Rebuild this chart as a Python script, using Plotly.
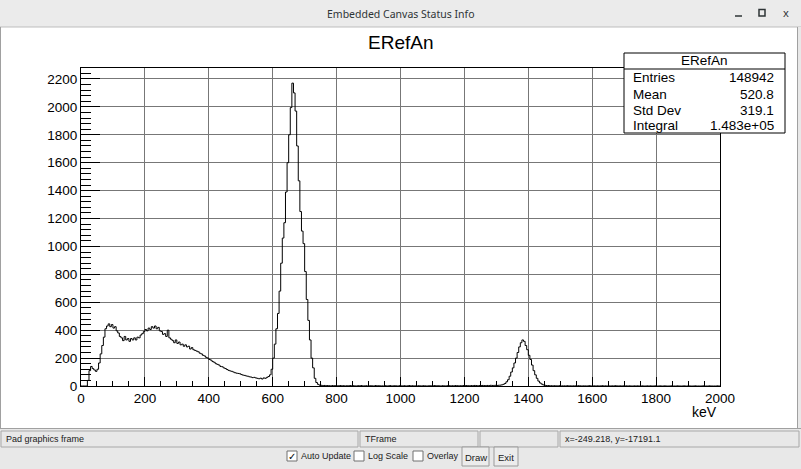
import plotly.graph_objects as go

# ---------------- data ----------------
BIN_W = 5  # keV per bin
# counts per 5 keV bin, 0 .. 595 keV
counts_low = [
    0, 0, 0, 0, 40, 110, 140, 125, 115, 105,
    120, 165, 230, 290, 350, 410, 430, 445, 425, 440,
    415, 425, 395, 380, 355, 345, 325, 355, 330, 340,
    320, 340, 330, 345, 330, 350, 345, 365, 375, 390,
    405, 395, 415, 405, 425, 415, 430, 410, 420, 395,
    390, 370, 375, 355, 400, 345, 335, 325, 310, 330,
    305, 315, 295, 300, 285, 295, 280, 285, 265, 275,
    260, 255, 250, 245, 235, 230, 220, 215, 205, 200,
    190, 185, 175, 170, 160, 155, 150, 140, 138, 130,
    125, 118, 112, 108, 105, 100, 95, 92, 90, 88,
    82, 78, 76, 72, 70, 66, 64, 60, 62, 58,
    55, 52, 56, 50, 58, 55, 62, 68, 80, 120,
]
# 600 .. 745 keV (photo peak)
counts_peak = [
    200, 300, 410, 520, 680, 880, 1060, 1170, 1390, 1600,
    1800, 1995, 2170, 2100, 1970, 1720, 1470, 1250, 1110, 1020,
    820, 620, 470, 330, 200, 130, 55, 25, 12, 6,
]
# 750 .. 1305 keV
counts_mid = [
    5, 3, 4, 2, 3, 2, 1, 3, 2, 2,
    1, 2, 3, 1, 2, 0, 2, 1, 3, 1,
    2, 1, 0, 2, 1, 3, 1, 1, 2, 0,
    1, 2, 1, 0, 3, 1, 2, 1, 1, 0,
    2, 1, 1, 3, 0, 1, 2, 1, 0, 2,
    1, 1, 2, 0, 1, 3, 1, 2, 1, 1,
    0, 2, 1, 1, 2, 1, 0, 1, 2, 1,
    1, 3, 1, 2, 1, 0, 2, 1, 1, 2,
    2, 1, 2, 1, 3, 2, 1, 2, 2, 3,
    2, 3, 2, 2, 3, 2, 4, 3, 2, 3,
    3, 4, 3, 3, 4, 3, 5, 4, 4, 5,
    4, 5,
]
# 1310 .. 1455 keV (second peak)
counts_hpeak = [
    6, 8, 12, 18, 30, 45, 70, 100, 130, 165,
    200, 240, 280, 310, 330, 320, 290, 260, 220, 190,
    150, 110, 80, 55, 35, 22, 14, 8, 5, 3,
]
# 1460 .. 1995 keV
counts_tail = [
    3, 2, 2, 1, 2, 1, 1, 2, 0, 1,
    1, 0, 2, 1, 1, 0, 1, 1, 0, 2,
    1, 0, 1, 1, 0, 1, 2, 0, 1, 1,
    0, 1, 0, 1, 2, 0, 1, 0, 1, 0,
    1, 0, 2, 1, 0, 1, 0, 1, 0, 1,
    0, 1, 0, 0, 1, 0, 1, 0, 0, 1,
    0, 0, 1, 0, 1, 0, 0, 1, 0, 0,
    1, 0, 0, 1, 0, 0, 0, 1, 0, 0,
    0, 1, 0, 0, 0, 1, 0, 0, 1, 0,
    0, 0, 1, 0, 0, 0, 0, 1, 0, 0,
    0, 1, 0, 0, 0, 0, 1, 0,
]
counts = counts_low + counts_peak + counts_mid + counts_hpeak + counts_tail
edges = [i * BIN_W for i in range(len(counts) + 1)]

x_ticks = list(range(0, 2001, 200))
y_ticks = list(range(0, 2201, 200))
Y_MAX = 2278.5

hist_title = "ERefAn"
x_title = "keV"
stats_labels = ["Entries", "Mean", "Std Dev", "Integral"]
stats_values = ["148942", "520.8", "319.1", "1.483e+05"]

window_title = "Embedded Canvas Status Info"
status_texts = ["Pad graphics frame", "TFrame", "", "x=-249.218, y=-17191.1"]
checkbox_labels = ["Auto Update", "Log Scale", "Overlay"]
checkbox_states = [True, False, False]
button_labels = ["Draw", "Exit"]

# ---------------- geometry helpers (pixels -> paper) ----------------
W, H = 801, 469
L, R, T, B = 81, 720, 68, 386


def px(x):
    return (x - L) / (R - L)


def py(y):
    return (B - y) / (B - T)


FONT = "Liberation Sans, Arial, Helvetica, sans-serif"
shapes = []
annos = []


def rect(x0, y0, x1, y1, fill=None, line=None, lw=1):
    shapes.append(dict(type="rect", xref="paper", yref="paper",
                       x0=px(x0), x1=px(x1), y0=py(y0), y1=py(y1),
                       fillcolor=fill if fill else "rgba(0,0,0,0)",
                       line=dict(color=line if line else "rgba(0,0,0,0)", width=lw if line else 0),
                       layer="above"))


def hline(x0, x1, y, color, lw=1):
    shapes.append(dict(type="line", xref="paper", yref="paper",
                       x0=px(x0), x1=px(x1), y0=py(y), y1=py(y),
                       line=dict(color=color, width=lw), layer="above"))


def vline(x, y0, y1, color, lw=1):
    shapes.append(dict(type="line", xref="paper", yref="paper",
                       x0=px(x), x1=px(x), y0=py(y0), y1=py(y1),
                       line=dict(color=color, width=lw), layer="above"))


def text(x, y, s, size, xanchor="left", color="black", family=FONT):
    annos.append(dict(xref="paper", yref="paper", x=px(x), y=py(y), text=s,
                      showarrow=False, xanchor=xanchor, yanchor="middle",
                      font=dict(size=size, color=color, family=family)))


# ---------------- window chrome ----------------
GUI = "#e8e8e8"
rect(0, 0, 801, 27, fill="#ebebeb")
hline(0, 801, 27, "#bdbdbd")
text(400.5, 13.5, window_title, 10.5, "center", "#2e3436", "Noto Sans, DejaVu Sans, sans-serif")
hline(735, 742, 16, "#2e3436", 1.5)
rect(759, 9.5, 765, 16, line="#2e3436", lw=1.5)
text(786, 13, "x", 11, "center", "#2e3436", "Noto Sans, DejaVu Sans, sans-serif")
# canvas border
vline(0.5, 27, 428, "#a0a0a0")
vline(797.5, 27, 428, "#a0a0a0")
rect(798, 27, 801, 428, fill=GUI)
# bottom panel
rect(0, 428, 801, 469, fill=GUI)
hline(0, 801, 428.5, "#a0a0a0")
segs = [(1, 358), (360, 478), (480, 558), (560, 799)]
for (a, b), s in zip(segs, status_texts):
    rect(a, 431, b, 447, line="#a8a8a8")
    if s:
        text(a + 3, 439, s, 9, "left", "#202020")
cb_x = [287, 354, 413]
for cx, lab, st in zip(cb_x, checkbox_labels, checkbox_states):
    rect(cx, 451, cx + 10, 461, fill="white", line="#707070")
    if st:
        text(cx + 5, 456, "✓", 10, "center", "black", "DejaVu Sans, sans-serif")
    text(cx + 12, 456, lab, 9, "left", "#202020")
btn_x = [(462, 489), (494, 518)]
for (a, b), lab in zip(btn_x, button_labels):
    rect(a, 447, b, 466, fill="#ececec", line="#9a9a9a")
    text((a + b) / 2, 457, lab, 9.5, "center", "#202020")

# ---------------- histogram decorations ----------------
text(400, 43, hist_title, 19, "center")
annos.append(dict(xref="paper", yref="paper", x=px(719), y=py(412), text=x_title,
                  showarrow=False, xanchor="right", yanchor="middle",
                  font=dict(size=14, color="black", family=FONT)))
# stats box
rect(624, 53, 785, 133, fill="white", line="black")
hline(624, 785, 69, "black")
text(704.5, 61, hist_title, 13.5, "center")
row_y = [77.5, 94, 110, 125.5]
for yy, lab, val in zip(row_y, stats_labels, stats_values):
    text(631, yy, lab, 13.5, "left")
    text(776, yy, val, 13.5, "right")

# ---------------- figure ----------------
fig = go.Figure()
fig.add_trace(go.Scatter(
    x=edges, y=counts + [counts[-1]], mode="lines",
    line=dict(color="black", width=1, shape="hv"),
    hoverinfo="skip", showlegend=False))

axis_common = dict(
    showline=True, linecolor="black", linewidth=1, mirror=True,
    showgrid=True, gridcolor="#777777", gridwidth=1, zeroline=False,
    ticks="inside", tickcolor="black", tickwidth=1,
    tickfont=dict(size=13.5, color="black", family=FONT),
    automargin=False,
)
fig.update_xaxes(range=[0, 2000], tickvals=x_ticks, ticklen=9,
                 minor=dict(dtick=50, tick0=0, ticklen=5, ticks="inside",
                            tickcolor="black", showgrid=False),
                 **axis_common)
fig.update_yaxes(range=[0, Y_MAX], tickvals=y_ticks, ticklen=19,
                 minor=dict(dtick=40, tick0=0, ticklen=10, ticks="inside",
                            tickcolor="black", showgrid=False),
                 **axis_common)

fig.update_layout(
    width=W, height=H,
    margin=dict(l=L, r=W - R, t=T, b=H - B, autoexpand=False),
    paper_bgcolor="white", plot_bgcolor="white",
    shapes=shapes, annotations=annos, showlegend=False,
)

fig.write_html(
    "out.html",
    config={"displayModeBar": False},
    post_script="document.body.style.margin='0';document.body.style.overflow='hidden';",
)
